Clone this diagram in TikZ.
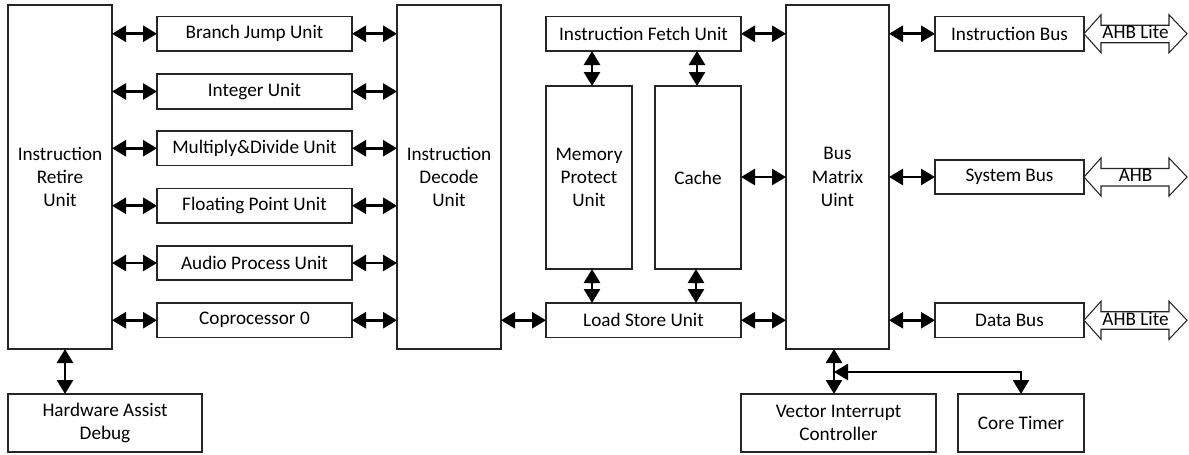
\documentclass[tikz,border=0pt]{standalone}
\usepackage{fontspec}
\setmainfont{Carlito}
\usetikzlibrary{arrows.meta}
\newcommand\bx[6]{\node[box, minimum width={(#3-#1)*0.75pt}, minimum height={(#4-#2)*0.75pt}]
  (#5) at ({(#1+#3)/2},{(#2+#4)/2}) {#6};}
\begin{document}
\begin{tikzpicture}[x=0.75pt,y=-0.75pt,
  box/.style={draw=black!85, line width=0.8pt, inner sep=0pt, outer sep=0pt, align=center,
    font=\fontsize{14.4}{17.4}\selectfont},
  lbl/.style={inner sep=0pt, font=\fontsize{14.4}{17.4}\selectfont},
  dbl/.style={line width=2pt, {Triangle[length=10.5pt,width=12pt]}-{Triangle[length=10.5pt,width=12pt]}},
  hollow/.style={draw=black!85, line width=0.8pt, fill=white}]
\useasboundingbox (0,0) rectangle (1189,454);
% left column
\bx{8}{5}{112}{349}{iru}{Instruction\\Retire\\Unit}
\bx{8}{394}{202}{452}{had}{Hardware Assist\\Debug}
% execution units
\bx{157}{16.5}{352}{51}{bj}{Branch Jump Unit}
\bx{157}{74}{352}{109}{iu}{Integer Unit}
\bx{157}{131}{352}{165.5}{md}{Multiply\&Divide Unit}
\bx{157}{188.5}{352}{223}{fp}{Floating Point Unit}
\bx{157}{246}{352}{280}{ap}{Audio Process Unit}
\bx{157}{303}{352}{337.5}{cp}{Coprocessor 0}
% decode
\bx{397}{5}{501}{349}{idu}{Instruction\\Decode\\Unit}
% memory side
\bx{546}{16.5}{741}{51}{ifu}{Instruction Fetch Unit}
\bx{546}{86}{632}{269}{mpu}{Memory\\Protect\\Unit}
\bx{655}{86}{741}{269}{cache}{Cache}
\bx{546}{303}{741}{337.5}{lsu}{Load Store Unit}
% bus matrix
\bx{786}{5}{889}{349}{bm}{Bus\\Matrix\\Uint}
\bx{935}{16.5}{1084}{51}{ib}{Instruction Bus}
\bx{935}{160}{1084}{194}{sb}{System Bus}
\bx{935}{303}{1084}{337.5}{db}{Data Bus}
\bx{741}{394}{936}{452}{vic}{Vector Interrupt\\Controller}
\bx{958}{394}{1084}{452}{ct}{Core Timer}
% connectors left
\foreach \n in {bj,iu,md,fp,ap,cp}{
  \draw[dbl] (iru.east |- \n) -- (\n.west);
  \draw[dbl] (\n.east) -- (idu.west |- \n);
}
\draw[dbl] (iru.south -| 65,0) -- (had.north -| 65,0);
\draw[dbl] (idu.east |- lsu) -- (lsu.west);
\draw[dbl] (mpu.north -| 592,0) -- (ifu.south -| 592,0);
\draw[dbl] (mpu.south -| 592,0) -- (lsu.north -| 592,0);
\draw[dbl] (cache.north -| 697,0) -- (ifu.south -| 697,0);
\draw[dbl] (cache.south -| 696,0) -- (lsu.north -| 696,0);
\draw[dbl] (ifu.east) -- (bm.west |- ifu);
\draw[dbl] (cache.east |- 0,177) -- (bm.west |- 0,177);
\draw[dbl] (lsu.east) -- (bm.west |- lsu);
\draw[dbl] (bm.east |- ib) -- (ib.west);
\draw[dbl] (bm.east |- sb) -- (sb.west);
\draw[dbl] (bm.east |- db) -- (db.west);
\coordinate (j) at (834,372);
\draw[dbl] (bm.south -| j) -- (vic.north -| j);
\draw[dbl] (j) -| (ct.north);
% hollow bus arrows
\foreach \n/\t in {ib/AHB Lite,sb/AHB,db/AHB Lite}{
  \path (\n.east) coordinate (o);
  \draw[hollow] (o) -- ++(17,-19) -- ++(0,10.5) -- ++(68,0) -- ++(0,-10.5) -- ++(18,19)
     -- ++(-18,19) -- ++(0,-10) -- ++(-68,0) -- ++(0,10) -- cycle;
  \node[lbl] (l\n) at ([xshift=51.5*0.75pt,yshift=1pt]o) {\t};
}
\end{tikzpicture}
\end{document}
